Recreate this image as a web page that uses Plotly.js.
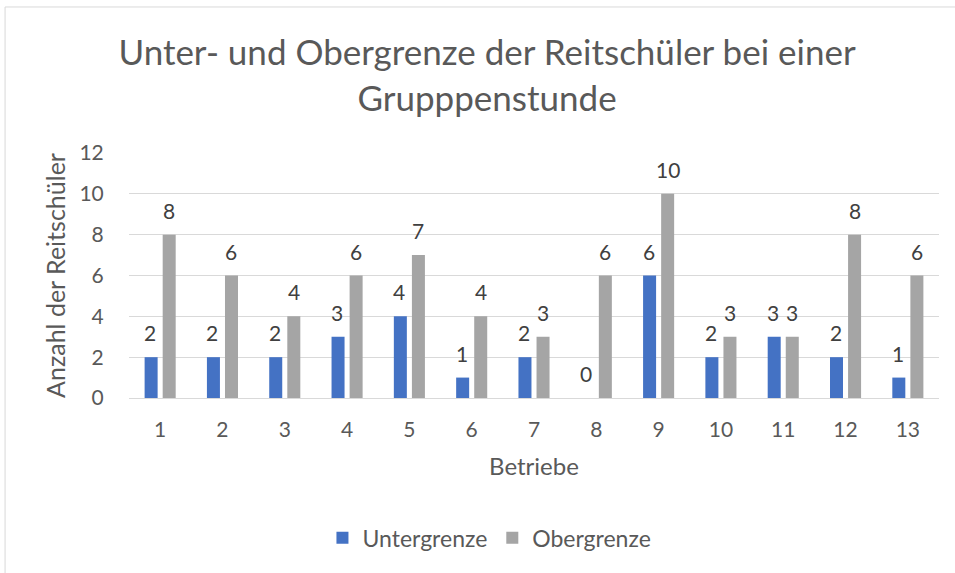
<!DOCTYPE html>
<html>
<head>
<meta charset="utf-8">
<script src="https://cdn.plot.ly/plotly-3.0.1.min.js"></script>
<style>html,body{margin:0;padding:0;background:#fff;}#chart{width:955px;height:573px;}</style>
</head>
<body>
<div id="chart"></div>
<script>
const categories = ["1","2","3","4","5","6","7","8","9","10","11","12","13"];
const untergrenze = [2,2,2,3,4,1,2,0,6,2,3,2,1];
const obergrenze = [8,6,4,6,7,4,3,6,10,3,3,8,6];
const seriesNames = ["Untergrenze","Obergrenze"];
const titleText = "Unter- und Obergrenze der Reitschüler bei einer<br>Grupppenstunde";
const yTitle = "Anzahl der Reitschüler";
const xTitle = "Betriebe";

const FONT = "Lato, 'Open Sans', sans-serif";
const blue = "#4472C4", gray = "#A5A5A5";

const traces = [
  {type:"bar", name:seriesNames[0], x:categories, y:untergrenze, marker:{color:blue}},
  {type:"bar", name:seriesNames[1], x:categories, y:obergrenze, marker:{color:gray}}
];

// data labels as annotations above each bar (x given as category index)
const annotations = [];
const shifts = [-10, 9];
[untergrenze, obergrenze].forEach((arr, s) => {
  arr.forEach((v, i) => {
    annotations.push({
      x: i, y: v, xref:"x", yref:"y",
      text: String(v), showarrow:false, xanchor:"center", yanchor:"bottom",
      xshift: shifts[s], yshift: 10,
      font:{family:FONT, size:21, color:"#404040"}
    });
  });
});

const layout = {
  width:955, height:573,
  paper_bgcolor:"#fff", plot_bgcolor:"#fff",
  margin:{l:129, r:16, t:153, b:175},
  font:{family:FONT, color:"#595959"},
  title:{text:titleText, font:{family:FONT, size:35, color:"#595959"},
    x:0.51, xanchor:"center", xref:"container", y:0.886, yanchor:"middle", yref:"container"},
  barmode:"group", bargap:0.42, bargroupgap:0.28,
  xaxis:{type:"category", showgrid:false, showline:true, linecolor:"#D9D9D9", linewidth:1,
    ticks:"outside", ticklen:13, tickcolor:"rgba(0,0,0,0)",
    tickfont:{family:FONT, size:21, color:"#595959"},
    title:{text:xTitle, font:{family:FONT, size:24, color:"#595959"}, standoff:17}},
  yaxis:{range:[0,12], dtick:2, showgrid:true, gridcolor:"#D9D9D9", gridwidth:1, zeroline:false,
    ticks:"outside", ticklen:20, tickcolor:"rgba(0,0,0,0)",
    tickfont:{family:FONT, size:21, color:"#595959"},
    title:{text:yTitle, font:{family:FONT, size:25, color:"#595959"}, standoff:6}},
  legend:{orientation:"h", x:0.445, xanchor:"center", y:-0.571, yanchor:"middle",
    font:{family:FONT, size:23, color:"#595959"}, traceorder:"normal", itemwidth:30},
  annotations: annotations,
  shapes:[{type:"rect", xref:"paper", yref:"paper", x0:-0.153, x1:2, y0:-2, y1:1.596,
    line:{color:"#D9D9D9", width:1}, fillcolor:"rgba(0,0,0,0)", layer:"below"}]
};

Plotly.newPlot("chart", traces, layout, {displayModeBar:false, staticPlot:true});
</script>
</body>
</html>
